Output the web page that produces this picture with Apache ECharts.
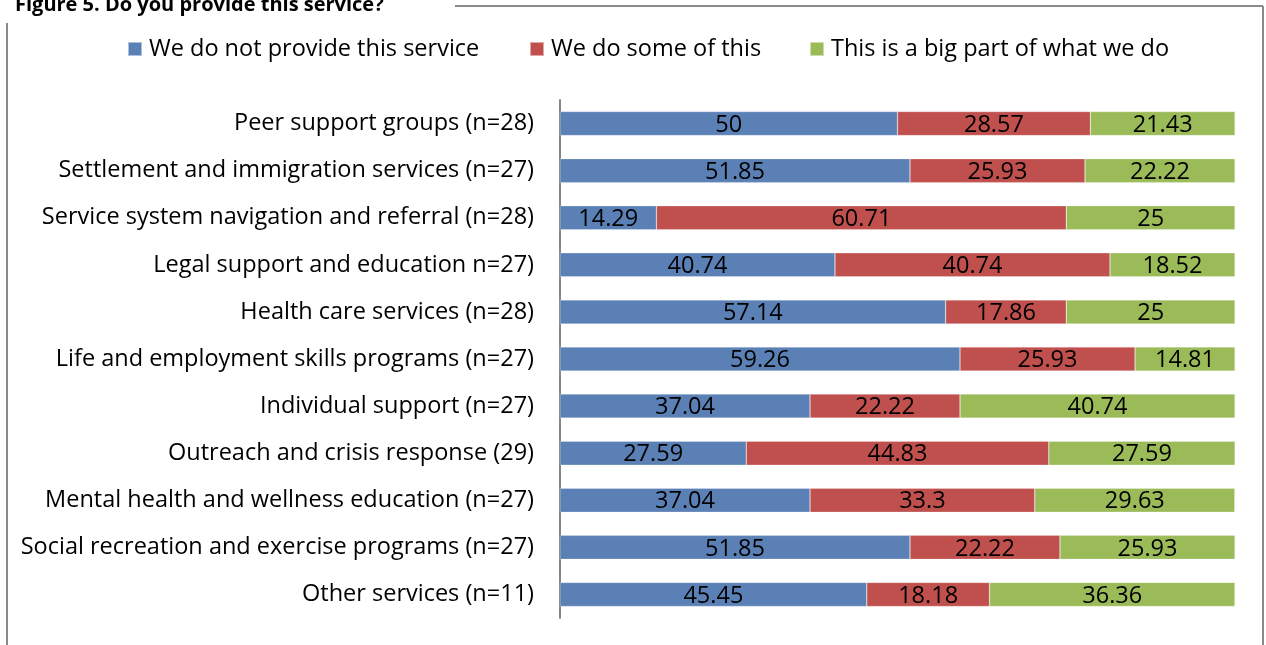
<!DOCTYPE html>
<html>
<head>
<meta charset="utf-8">
<script src="https://cdn.jsdelivr.net/npm/echarts@6/dist/echarts.min.js"></script>
<style>
  html, body { margin: 0; padding: 0; background: #fff; }
  #chart { width: 1266px; height: 645px; }
</style>
</head>
<body>
<div id="chart"></div>
<script>
// Services, top to bottom
const categories = [
  'Peer support groups (n=28)',
  'Settlement and immigration services (n=27)',
  'Service system navigation and referral (n=28)',
  'Legal support and education n=27)',
  'Health care services (n=28)',
  'Life and employment skills programs (n=27)',
  'Individual support (n=27)',
  'Outreach and crisis response (29)',
  'Mental health and wellness education (n=27)',
  'Social recreation and exercise programs (n=27)',
  'Other services (n=11)'
];

// Percent of respondents per answer
const notProvided = [50, 51.85, 14.29, 40.74, 57.14, 59.26, 37.04, 27.59, 37.04, 51.85, 45.45];
const someOfThis  = [28.57, 25.93, 60.71, 40.74, 17.86, 25.93, 22.22, 44.83, 33.3, 22.22, 18.18];
const bigPart     = [21.43, 22.22, 25, 18.52, 25, 14.81, 40.74, 27.59, 29.63, 25.93, 36.36];

const seriesNames = ['We do not provide this service', 'We do some of this', 'This is a big part of what we do'];
const seriesColors = ['#5B80B5', '#C0504D', '#9BBB59'];
const seriesData = [notProvided, someOfThis, bigPart];
const legendLeft = [122, 524, 804];

const FONT = '"Open Sans", Lato, sans-serif';
const FS = 23.5;

const chart = echarts.init(document.getElementById('chart'));

chart.setOption({
  animation: false,
  backgroundColor: '#fff',
  textStyle: { fontFamily: FONT },
  // one legend block per series so each entry sits at its own spot
  legend: seriesNames.map((name, i) => ({
    top: 32,
    left: legendLeft[i],
    itemWidth: 14,
    itemHeight: 14,
    itemGap: 0,
    icon: 'rect',
    textStyle: { fontSize: FS, color: '#000', fontFamily: FONT, padding: [0, 0, 0, 2] },
    data: [name]
  })),
  grid: { left: 560, right: 31, top: 100, bottom: 27, containLabel: false },
  xAxis: {
    type: 'value',
    min: 0,
    max: 100,
    show: false
  },
  yAxis: {
    type: 'category',
    inverse: true,
    data: categories,
    axisLine: { show: true, lineStyle: { color: '#868686', width: 2 } },
    axisTick: { show: false },
    axisLabel: { color: '#000', fontSize: FS, fontFamily: FONT, margin: 26, padding: [3, 0, 0, 0] }
  },
  series: seriesData.map((vals, i) => ({
    name: seriesNames[i],
    type: 'bar',
    stack: 'total',
    barWidth: 24,
    data: vals,
    itemStyle: { color: seriesColors[i], borderColor: 'rgba(255,255,255,0.5)', borderWidth: 0.5 },
    label: {
      show: true,
      position: 'inside',
      offset: [0, 1.5],
      color: '#000',
      fontSize: FS,
      fontFamily: FONT,
      formatter: p => String(p.value)
    }
  })),
  graphic: [
    {
      type: 'text',
      x: 15,
      y: 5,
      style: {
        text: 'Figure 5. Do you provide this service?',
        font: 'bold 20px ' + FONT,
        fill: '#000',
        verticalAlign: 'middle'
      }
    },
    { type: 'line', shape: { x1: 7, y1: 23, x2: 7, y2: 645 }, style: { stroke: '#8a8a8a', lineWidth: 2 } },
    { type: 'line', shape: { x1: 455, y1: 6, x2: 1263, y2: 6 }, style: { stroke: '#8a8a8a', lineWidth: 2 } },
    { type: 'line', shape: { x1: 1263, y1: 6, x2: 1263, y2: 645 }, style: { stroke: '#8a8a8a', lineWidth: 2 } }
  ]
});
</script>
</body>
</html>
